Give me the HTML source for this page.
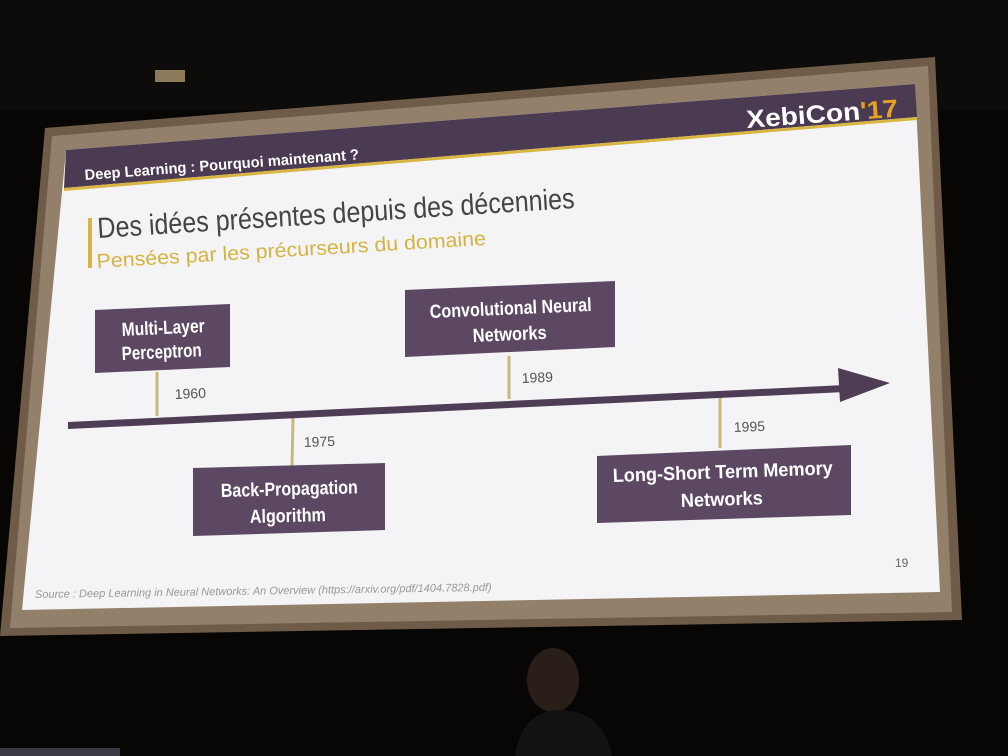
<!DOCTYPE html>
<html><head><meta charset="utf-8"><style>
html,body{margin:0;padding:0;background:#050404;}
svg{display:block}
text{font-family:"Liberation Sans",sans-serif;}
</style></head><body>
<svg width="1008" height="756" viewBox="0 0 1008 756" xmlns="http://www.w3.org/2000/svg">
<rect width="1008" height="756" fill="#070605"/>
<rect x="0" y="0" width="1008" height="110" fill="#0d0c0b"/>
<rect x="155" y="70" width="30" height="12" fill="#8a7a5a"/>
<polygon points="45,128 935,57 962,620 0,636" fill="#6f5c48"/>
<polygon points="52,136 928,66 952,612 10,628" fill="#93806a"/>
<polygon points="66,150 915,84 940,592 22,610" fill="#f4f3f5"/>
<polygon points="66,150 915,84 917,117 64,188" fill="#4b3b52"/>
<polygon points="64,188 917,117 917,120 64,191" fill="#d8b640"/>
<text transform="translate(85,180) rotate(-4.3)" font-size="15" font-weight="bold" fill="#fff" textLength="275" lengthAdjust="spacingAndGlyphs">Deep Learning : Pourquoi maintenant ?</text>
<text transform="translate(747,128) rotate(-4.3)" font-size="25" font-weight="bold" fill="#fff" textLength="152" lengthAdjust="spacingAndGlyphs">XebiCon<tspan fill="#e8a020">'17</tspan></text>
<polygon points="88,218 92,218 92,268 88,268" fill="#d8b640"/>
<text transform="translate(98,238) rotate(-3.6)" font-size="29" fill="#444" textLength="478" lengthAdjust="spacingAndGlyphs">Des idées présentes depuis des décennies</text>
<text transform="translate(97,268) rotate(-3.4)" font-size="20" fill="#d4b440" textLength="390" lengthAdjust="spacingAndGlyphs">Pensées par les précurseurs du domaine</text>
<g stroke="#c9b87a" stroke-width="3">
<line x1="157" y1="372" x2="157" y2="416"/>
<line x1="293" y1="418" x2="292" y2="466"/>
<line x1="509" y1="356" x2="509" y2="399"/>
<line x1="720" y1="393" x2="720" y2="448"/>
</g>
<polygon points="68,422 845,385 845,392 68,429" fill="#4e3d55"/>
<polygon points="838,368 890,383 840,402" fill="#4e3d55"/>
<g fill="#5c4862">
<polygon points="95,310 230,304 230,367 95,373"/>
<polygon points="405,290 615,281 615,347 405,357"/>
<polygon points="193,468 385,463 385,530 193,536"/>
<polygon points="597,456 851,445 851,515 597,523"/>
</g>
<g fill="#fff" font-size="19" font-weight="bold" lengthAdjust="spacingAndGlyphs">
<text transform="translate(122,336) rotate(-2.7)" textLength="83" lengthAdjust="spacingAndGlyphs">Multi-Layer</text>
<text transform="translate(122,360) rotate(-2.7)" textLength="80" lengthAdjust="spacingAndGlyphs">Perceptron</text>
<text transform="translate(430,318) rotate(-2.5)" textLength="162" lengthAdjust="spacingAndGlyphs">Convolutional Neural</text>
<text transform="translate(473,342) rotate(-2.5)" textLength="74" lengthAdjust="spacingAndGlyphs">Networks</text>
<text transform="translate(221,497) rotate(-1.5)" textLength="137" lengthAdjust="spacingAndGlyphs">Back-Propagation</text>
<text transform="translate(250,523) rotate(-1.5)" textLength="76" lengthAdjust="spacingAndGlyphs">Algorithm</text>
<text transform="translate(613,482) rotate(-2)" textLength="220" lengthAdjust="spacingAndGlyphs">Long-Short Term Memory</text>
<text transform="translate(681,507) rotate(-2)" textLength="82" lengthAdjust="spacingAndGlyphs">Networks</text>
</g>
<g fill="#555" font-size="14">
<text transform="translate(175,399) rotate(-2.5)">1960</text>
<text transform="translate(304,447) rotate(-2)">1975</text>
<text transform="translate(522,383) rotate(-2.5)">1989</text>
<text transform="translate(734,432) rotate(-2)">1995</text>
</g>
<text x="895" y="567" font-size="12" fill="#666">19</text>
<text transform="translate(35,598) rotate(-0.9)" font-size="11" font-style="italic" fill="#999">Source : Deep Learning in Neural Networks: An Overview (https://arxiv.org/pdf/1404.7828.pdf)</text>
<ellipse cx="553" cy="680" rx="26" ry="32" fill="#2a1e18"/>
<path d="M515,756 C520,720 540,710 560,710 C585,710 605,722 612,756 Z" fill="#141112"/>
<rect x="0" y="748" width="120" height="8" fill="#3a3a44"/>
</svg>
</body></html>
